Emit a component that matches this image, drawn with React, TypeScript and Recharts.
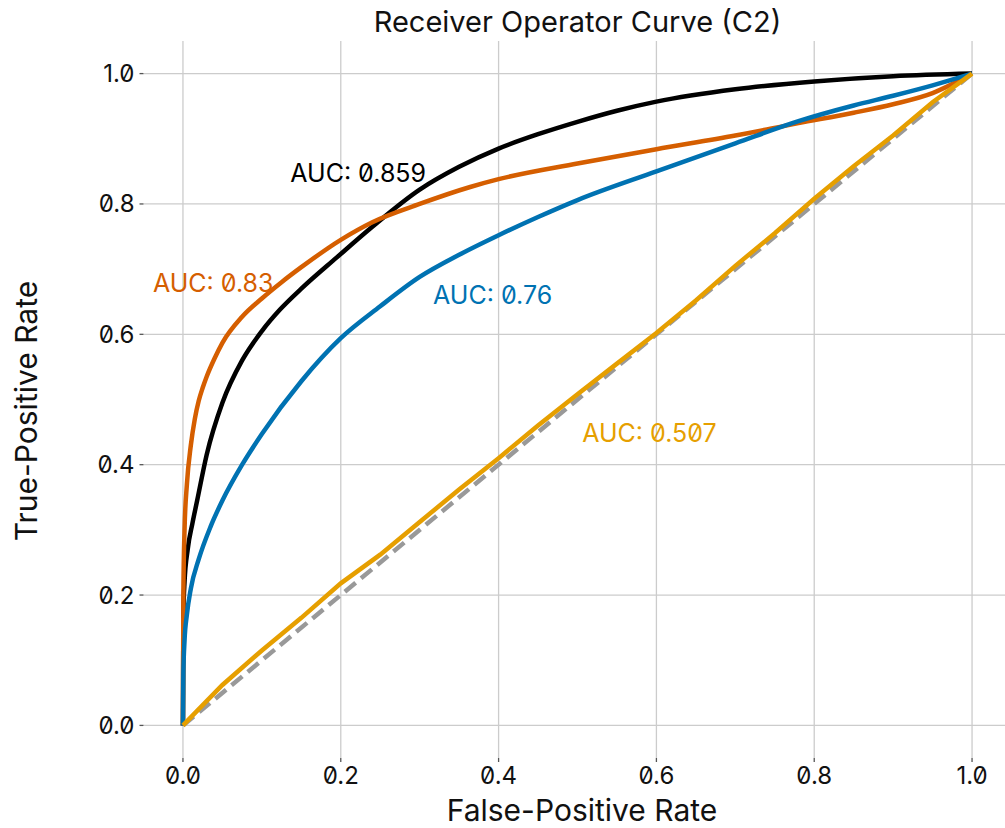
import { LineChart, Line, XAxis, YAxis, CartesianGrid, ReferenceDot } from 'recharts';

const TICKS = [0, 0.2, 0.4, 0.6, 0.8, 1.0];

const CHANCE_FPR = [0, 1];
const CHANCE_TPR = [0, 1];

const BLACK_FPR = [0, 0.0005, 0.002, 0.006, 0.012, 0.018, 0.03, 0.05, 0.075, 0.1, 0.123, 0.15, 0.195, 0.24, 0.3, 0.35, 0.4, 0.45, 0.5, 0.55, 0.6, 0.7, 0.8, 0.9, 1];
const BLACK_TPR = [0, 0.17, 0.22, 0.27, 0.31, 0.345, 0.415, 0.495, 0.56, 0.605, 0.638, 0.67, 0.718, 0.765, 0.822, 0.857, 0.885, 0.907, 0.926, 0.943, 0.957, 0.976, 0.988, 0.996, 1];

const ORANGE_FPR = [0, 0.0005, 0.002, 0.005, 0.01, 0.015, 0.02, 0.025, 0.03, 0.04, 0.05, 0.075, 0.1, 0.125, 0.15, 0.2, 0.24, 0.3, 0.364, 0.4, 0.5, 0.6, 0.7, 0.78, 0.85, 0.9, 0.95, 1];
const ORANGE_TPR = [0, 0.2, 0.3, 0.37, 0.43, 0.47, 0.498, 0.518, 0.535, 0.563, 0.587, 0.627, 0.655, 0.68, 0.703, 0.745, 0.772, 0.8, 0.826, 0.838, 0.862, 0.884, 0.905, 0.924, 0.94, 0.953, 0.97, 1];

const BLUE_FPR = [0, 0.0005, 0.002, 0.005, 0.01, 0.02, 0.035, 0.05, 0.075, 0.1, 0.15, 0.2, 0.25, 0.3, 0.35, 0.4, 0.45, 0.5, 0.6, 0.7, 0.78, 0.85, 0.9, 0.95, 1];
const BLUE_TPR = [0, 0.08, 0.13, 0.17, 0.21, 0.255, 0.305, 0.345, 0.4, 0.447, 0.528, 0.594, 0.643, 0.688, 0.722, 0.752, 0.78, 0.806, 0.85, 0.893, 0.927, 0.951, 0.966, 0.982, 1];

const GOLD_FPR = [0, 0.05, 0.1, 0.15, 0.2, 0.25, 0.3, 0.35, 0.4, 0.45, 0.5, 0.55, 0.6, 0.65, 0.7, 0.75, 0.8, 0.85, 0.9, 0.95, 1];
const GOLD_TPR = [0, 0.062, 0.115, 0.165, 0.218, 0.262, 0.312, 0.362, 0.41, 0.46, 0.508, 0.555, 0.602, 0.652, 0.705, 0.755, 0.808, 0.858, 0.905, 0.956, 1];

const LABELS = [
  { text: 'AUC: 0.859', x: 0.136, y: 0.848, color: '#000000' },
  { text: 'AUC: 0.83', x: -0.038, y: 0.678, color: '#D55E00' },
  { text: 'AUC: 0.76', x: 0.317, y: 0.66, color: '#0072B2' },
  { text: 'AUC: 0.507', x: 0.506, y: 0.449, color: '#E69F00' },
];

const toPoints = (fpr: number[], tpr: number[]) => fpr.map((f, i) => ({ fpr: f, tpr: tpr[i] }));

const FONT = 'Inter, "DejaVu Sans", sans-serif';

export default function App() {
  return (
    <div
      style={{
        position: 'relative',
        width: 1005,
        height: 828,
        overflow: 'hidden',
        background: '#fff',
        fontFamily: FONT,
        fontFeatureSettings: '"zero"',
        color: '#111',
      }}
    >
      <style>{'body{margin:0}'}</style>
      <div style={{ position: 'absolute', left: 0, width: 1155, top: 4, textAlign: 'center', fontSize: 29, lineHeight: '36px' }}>
        Receiver Operator Curve (C2)
      </div>
      <div style={{ position: 'absolute', left: 0, width: 1164, top: 793, textAlign: 'center', fontSize: 30, lineHeight: '34px' }}>
        False-Positive Rate
      </div>
      <div
        style={{
          position: 'absolute',
          left: 26,
          top: 411,
          transform: 'translate(-50%, -50%) rotate(-90deg)',
          whiteSpace: 'nowrap',
          fontSize: 30,
          lineHeight: '36px',
        }}
      >
        True-Positive Rate
      </div>
      <LineChart
        width={1020}
        height={828}
        margin={{ top: 41, right: 8.5, bottom: 0, left: 0 }}
        style={{ fontFamily: FONT }}
      >
        <CartesianGrid stroke="#cccccc" strokeWidth={1.3} horizontalValues={TICKS} verticalValues={TICKS} />
        <XAxis
          type="number"
          dataKey="fpr"
          domain={[-0.05, 1.05]}
          ticks={TICKS}
          tickFormatter={(v: number) => v.toFixed(1)}
          axisLine={false}
          tickLine={{ stroke: '#555', strokeWidth: 1.3 }}
          tickSize={4}
          tickMargin={5}
          tick={{ fill: '#111', fontSize: 24 }}
          height={70}
          allowDataOverflow
        />
        <YAxis
          type="number"
          dataKey="tpr"
          domain={[-0.05, 1.05]}
          ticks={TICKS}
          tickFormatter={(v: number) => v.toFixed(1)}
          axisLine={false}
          tickLine={{ stroke: '#555', strokeWidth: 1.3 }}
          tickSize={4}
          tickMargin={5}
          tick={{ fill: '#111', fontSize: 24 }}
          width={143.5}
          allowDataOverflow
        />
        <Line
          data={toPoints(CHANCE_FPR, CHANCE_TPR)}
          dataKey="tpr"
          type="linear"
          stroke="#999999"
          strokeWidth={4.5}
          strokeDasharray="14 7"
          dot={false}
          activeDot={false}
          isAnimationActive={false}
        />
        <Line
          data={toPoints(BLACK_FPR, BLACK_TPR)}
          dataKey="tpr"
          type="monotone"
          stroke="#000000"
          strokeWidth={4.5}
          dot={false}
          activeDot={false}
          isAnimationActive={false}
        />
        <Line
          data={toPoints(ORANGE_FPR, ORANGE_TPR)}
          dataKey="tpr"
          type="monotone"
          stroke="#D55E00"
          strokeWidth={4.5}
          dot={false}
          activeDot={false}
          isAnimationActive={false}
        />
        <Line
          data={toPoints(BLUE_FPR, BLUE_TPR)}
          dataKey="tpr"
          type="monotone"
          stroke="#0072B2"
          strokeWidth={4.5}
          dot={false}
          activeDot={false}
          isAnimationActive={false}
        />
        <Line
          data={toPoints(GOLD_FPR, GOLD_TPR)}
          dataKey="tpr"
          type="linear"
          stroke="#E69F00"
          strokeWidth={4.5}
          dot={false}
          activeDot={false}
          isAnimationActive={false}
        />
        {LABELS.map((l) => (
          <ReferenceDot
            key={l.text}
            x={l.x}
            y={l.y}
            r={0}
            fill="none"
            stroke="none"
            ifOverflow="visible"
            label={{ value: l.text, position: 'right', offset: 0, fill: l.color, fontSize: 25 }}
          />
        ))}
      </LineChart>
    </div>
  );
}
